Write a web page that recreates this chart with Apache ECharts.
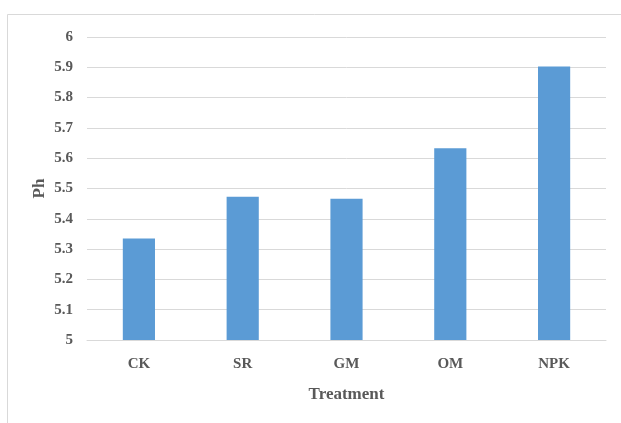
<!DOCTYPE html>
<html>
<head>
<meta charset="utf-8">
<script src="https://cdn.jsdelivr.net/npm/echarts@6/dist/echarts.min.js"></script>
<style>
  html, body { margin: 0; padding: 0; background: #fff; }
  #chart { width: 621px; height: 423px; }
</style>
</head>
<body>
<div id="chart"></div>
<script>
// Soil pH by fertilisation treatment
const treatments = ['CK', 'SR', 'GM', 'OM', 'NPK'];
const phValues = [5.335, 5.473, 5.466, 5.633, 5.903];
const yMin = 5;
const yMax = 6;
const yStep = 0.1;

const textColor = '#595959';
const serif = '"Liberation Serif", "Times New Roman", serif';

const chart = echarts.init(document.getElementById('chart'));
chart.setOption({
  animation: false,
  backgroundColor: '#ffffff',
  graphic: [{
    type: 'rect',
    shape: { x: 7.5, y: 14.5, width: 700, height: 500 },
    style: { fill: 'none', stroke: '#d9d9d9', lineWidth: 1 },
    silent: true
  }],
  grid: { left: 87, right: 15, top: 37, bottom: 83 },
  xAxis: {
    type: 'category',
    data: treatments,
    name: 'Treatment',
    nameLocation: 'middle',
    nameGap: 46,
    nameTextStyle: { color: textColor, fontFamily: serif, fontWeight: 'bold', fontSize: 17 },
    axisLine: { show: true, lineStyle: { color: '#d9d9d9', width: 1 } },
    axisTick: { show: false },
    axisLabel: { color: textColor, fontFamily: serif, fontWeight: 'bold', fontSize: 15, margin: 17 }
  },
  yAxis: {
    type: 'value',
    min: yMin,
    max: yMax,
    interval: yStep,
    name: 'Ph',
    nameLocation: 'middle',
    nameGap: 39,
    nameRotate: 90,
    nameMoveOverlap: false,
    nameTextStyle: { color: textColor, fontFamily: serif, fontWeight: 'bold', fontSize: 17 },
    axisLine: { show: false },
    axisTick: { show: false },
    axisLabel: {
      color: textColor, fontFamily: serif, fontWeight: 'bold', fontSize: 15, margin: 14,
      formatter: v => String(parseFloat(v.toFixed(1)))
    },
    splitLine: { lineStyle: { color: '#d9d9d9', width: 1 } }
  },
  series: [{
    type: 'bar',
    data: phValues,
    barWidth: '31%',
    itemStyle: { color: '#5b9bd5' }
  }]
});
</script>
</body>
</html>
